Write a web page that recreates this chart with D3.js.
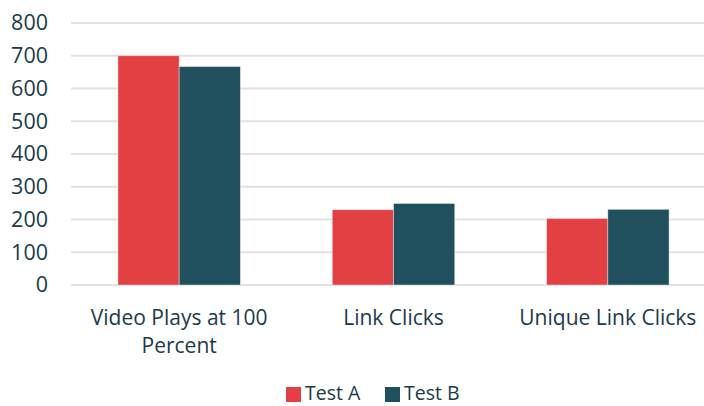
<!DOCTYPE html>
<html>
<head>
<meta charset="utf-8">
<script src="https://cdn.jsdelivr.net/npm/d3@7"></script>
<style>
  body { margin: 0; background: #fff; }
  svg text { font-family: "Open Sans", "Noto Sans", sans-serif; fill: #203a4a; }
</style>
</head>
<body>
<div id="chart"></div>
<script>
// data
var categories = ["Video Plays at 100 Percent", "Link Clicks", "Unique Link Clicks"];
var seriesNames = ["Test A", "Test B"];
var testA = [700, 230, 203];
var testB = [667, 249, 231];
var yTicks = [0, 100, 200, 300, 400, 500, 600, 700, 800];
var colors = ["#e34044", "#204f5e"];

var width = 704, height = 406;
var svg = d3.select("#chart").append("svg")
    .attr("width", width)
    .attr("height", height);

// scales
var x0 = d3.scaleBand().domain(categories).range([72, 715]).paddingInner(0).paddingOuter(0);
var x1 = d3.scaleBand().domain(seriesNames).range([0, x0.bandwidth()]).paddingInner(0).paddingOuter(0.75);
var y = d3.scaleLinear().domain([0, 800]).range([285, 23]);

// gridlines
svg.append("g").selectAll("line")
    .data(yTicks)
    .enter().append("line")
    .attr("x1", 71).attr("x2", width)
    .attr("y1", function(d) { return y(d); })
    .attr("y2", function(d) { return y(d); })
    .attr("stroke", "#e2e2e2")
    .attr("stroke-width", 2);

// y labels
var yAxis = d3.axisLeft(y).tickValues(yTicks).tickSize(0).tickPadding(0);
var yg = svg.append("g").attr("transform", "translate(48,0)").call(yAxis);
yg.select(".domain").remove();
yg.selectAll("text").attr("font-size", 21.5).attr("font-family", null);

// bars
var rows = categories.map(function(c, i) {
  return { cat: c, values: [{ s: "Test A", v: testA[i] }, { s: "Test B", v: testB[i] }] };
});
var groups = svg.append("g").selectAll("g")
    .data(rows)
    .enter().append("g")
    .attr("transform", function(d) { return "translate(" + x0(d.cat) + ",0)"; });
groups.selectAll("rect")
    .data(function(d) { return d.values; })
    .enter().append("rect")
    .attr("x", function(d) { return x1(d.s); })
    .attr("width", x1.bandwidth())
    .attr("y", function(d) { return y(d.v); })
    .attr("height", function(d) { return y(0) - y(d.v); })
    .attr("fill", function(d, i) { return colors[i]; })
    .attr("stroke", "#ffffff")
    .attr("stroke-opacity", 0.5)
    .attr("stroke-width", 0.8);

// category labels (wrapped like the original)
var catLines = [["Video Plays at 100", "Percent"], ["Link Clicks"], ["Unique Link Clicks"]];
categories.forEach(function(c, i) {
  var t = svg.append("text")
      .attr("x", x0(c) + x0.bandwidth() / 2)
      .attr("y", 325)
      .attr("text-anchor", "middle")
      .attr("font-size", 21);
  catLines[i].forEach(function(line, j) {
    t.append("tspan")
      .attr("x", x0(c) + x0.bandwidth() / 2)
      .attr("dy", j === 0 ? 0 : 28)
      .text(line);
  });
});

// legend
var legendX = [286, 385];
seriesNames.forEach(function(s, i) {
  svg.append("rect")
    .attr("x", legendX[i]).attr("y", 387)
    .attr("width", 15).attr("height", 15)
    .attr("fill", colors[i]);
  svg.append("text")
    .attr("x", legendX[i] + 19).attr("y", 400)
    .attr("font-size", 19.5)
    .text(s);
});
</script>
</body>
</html>
